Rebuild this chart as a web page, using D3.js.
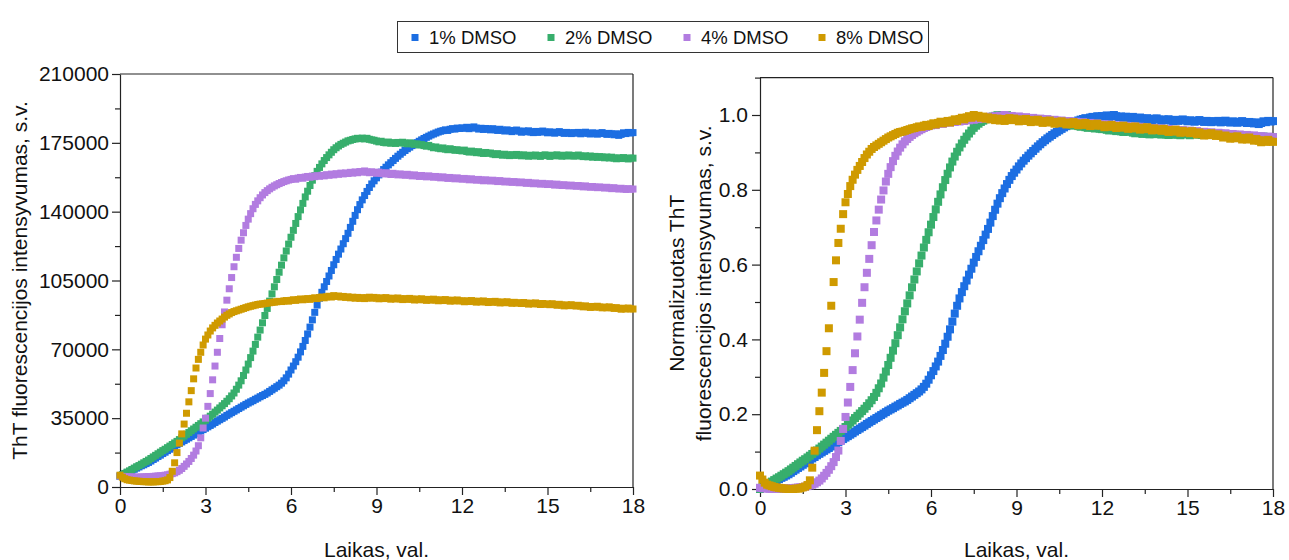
<!DOCTYPE html>
<html><head><meta charset="utf-8">
<script src="https://cdn.jsdelivr.net/npm/d3@7"></script>
<style>
html,body{margin:0;padding:0;background:#fff;}
svg{display:block;font-family:"Liberation Sans",Arial,sans-serif;}
</style></head><body>
<svg id="chart" width="1289" height="560"></svg>
<script>
// ---- data ----
const seriesNames = ["1% DMSO", "2% DMSO", "4% DMSO", "8% DMSO"];
const seriesColors = ["#1c6ee2", "#37ae6c", "#b27ce0", "#cf9a00"];
const intervalMinutes = 5; // measurement every 5 min, 0..18 h

const dmso1 = [
5500,6100,6700,7300,7800,8400,9000,9600,10200,10800,11300,11900,
12500,13200,14000,14700,15500,16200,17000,17700,18500,19200,20000,20700,
21500,22200,22900,23600,24300,25000,25700,26400,27100,27800,28500,29200,
29900,30600,31300,32000,32800,33500,34200,34900,35600,36400,37100,37800,
38500,39200,39900,40600,41300,42000,42700,43300,43900,44600,45200,45900,
46500,47100,47800,48600,49400,50200,51000,51800,52800,54000,55500,57400,
59500,61500,63700,66000,68700,71500,74500,77800,81300,85000,88800,92500,
96000,99000,101800,104500,107300,110100,113000,115700,118400,121000,123700,126300,
129000,132000,135100,138100,141000,143600,146000,148200,150300,152300,154100,155700,
157200,158700,160100,161400,162600,163800,164900,166000,167100,168200,169200,170200,
171100,172000,172800,173600,174400,175100,175800,176500,177200,177800,178400,179000,
179500,180000,180500,180900,181200,181600,181300,181900,182200,182000,182500,182300,
182600,182400,182900,182200,182700,183100,182500,182000,182400,181800,182300,182100,
181600,182200,181700,181300,181900,181400,181000,181600,181200,180700,181300,181500,
180900,180400,181000,180600,181100,180500,180200,180800,180300,180700,181000,180500,
180100,180600,180300,179900,180400,180700,180200,179800,180300,180000,179700,180200,
179900,180300,179600,180000,180400,179800,179500,180100,179800,179400,179900,180200,
179700,179300,179800,179500,179100,179600,178800,179300,180100,179700,180300,180000,
180200];

const dmso2 = [
5500,6200,6900,7600,8200,8900,9600,10300,10900,11600,12300,13000,
13700,14500,15300,16100,16900,17700,18500,19200,20000,20800,21600,22400,
23200,24100,25000,25900,26800,27700,28600,29500,30400,31300,32200,33100,
34000,35000,36000,37000,38100,39100,40200,41300,42400,43600,44900,46300,
47800,49700,51800,54000,56700,59500,62500,65800,69100,72500,76200,79800,
83500,87200,90800,94500,98200,101800,105500,109200,112800,116500,120000,123500,
127000,130500,134000,137500,140900,144200,147500,150400,153300,156000,158300,160500,
162500,164300,166000,167500,168900,170200,171500,172500,173400,174200,174800,175400,
176000,176300,176700,177000,177300,177100,177400,177000,177300,176800,176500,176300,
175900,175500,175800,175200,175000,175400,174800,175100,174700,175200,174900,175300,
174800,174500,175000,174600,174200,174500,173900,174100,173600,173300,173700,173000,
172500,172900,172300,172000,172400,171800,171500,172000,171600,171200,171500,171100,
170900,171300,170600,170300,170800,170400,170000,170500,169900,169600,170100,169700,
169800,169300,169000,169500,169100,168700,169200,168800,168500,169000,168600,169100,
168800,168400,168900,168500,168200,168700,168300,168800,168500,168100,168600,168900,
168500,168100,168700,168400,168900,168500,168200,168700,168300,168800,168600,168200,
168500,168800,168300,168000,168400,167900,168300,167700,168100,167600,168000,167800,
167400,167800,167300,167700,167200,166900,167400,167000,167500,167100,166800,167300,
167200];

const dmso4 = [
5500,5400,5300,5200,5100,5100,5000,5000,5000,5100,5100,5200,
5300,5300,5400,5500,5600,5700,5800,6000,6200,6500,6800,7200,
7800,8500,9400,10500,11700,13000,14500,16200,18300,21000,25000,30000,
35000,41000,47500,54500,61500,68500,75500,82500,89000,95000,100800,106500,
112000,116800,121300,125500,129300,133000,136200,139000,141500,143700,145500,147100,
148500,149700,150700,151600,152400,153100,153700,154300,154800,155300,155700,156100,
156400,156800,156500,157100,157400,157000,157600,157900,157500,158100,157800,158300,
158000,158500,158200,158800,158500,159100,158700,159300,159000,159600,159200,159700,
159400,160000,159600,160200,159800,160400,160100,160700,160200,159800,160300,159900,
159500,160100,159600,159200,159800,159300,158900,159500,159100,158700,159200,158800,
158500,159000,158600,158200,158700,158300,157900,158400,158000,157700,158200,157900,
157500,157900,157600,157200,157700,157300,156900,157400,157000,156700,157200,156800,
156500,156900,156600,156200,156700,156300,156000,156400,156100,155700,156200,155900,
155600,156000,155700,155300,155800,155400,155100,155500,155200,154900,155300,155000,
154700,155100,154800,154400,154900,154500,154200,154600,154300,154000,154400,154100,
153800,154200,153900,153500,154000,153600,153300,153700,153400,153100,153500,153200,
152900,153300,153000,152600,153100,152700,152400,152800,152500,152200,152600,152300,
152000,152400,152100,151700,152200,151800,151500,151900,151600,151300,151700,151400,
151500];

const dmso8 = [
6000,5000,4200,3700,3500,3300,3100,3000,2900,2800,2700,2700,
2600,2600,2600,2700,2700,2800,3000,3200,3600,4800,8000,12300,
17500,22300,27000,32000,37500,43300,49000,55000,60500,64900,68500,72200,
75200,77300,79300,80900,82200,83400,84400,85400,86400,87300,88000,88700,
89200,89600,90000,90400,90800,91200,91600,91900,92200,92500,92800,93000,
93100,93300,93500,93700,93900,94000,94200,94400,94300,94600,94800,94500,
94900,95200,94900,95300,95600,95200,95500,95800,95400,95900,96200,95800,
96300,96600,96200,96700,97000,96600,97300,96900,97100,96600,96900,96400,
96700,96200,96500,96000,96400,95900,96300,95800,96200,96500,96000,96400,
96100,95700,96200,95800,96300,95900,95500,96000,95600,96100,95700,95300,
95800,95400,95900,95500,95100,95600,95200,95700,95300,94900,95400,95000,
95500,95100,94700,95200,94800,95300,94900,94500,95000,94600,95100,94700,
94600,94200,94700,94300,94800,94400,94000,94500,94100,94600,94200,93800,
94300,93900,94400,94000,93600,94100,93700,94200,93800,93400,93900,93500,
93700,93300,93800,93400,93000,93500,93100,93600,93200,92800,93300,92900,
93100,92700,93200,92800,92400,92900,92500,92100,92600,92200,92700,92300,
92000,92400,92000,91600,92100,91700,91300,91800,91400,91900,91500,91100,
91500,91100,91600,91200,90800,91200,90800,90400,90900,90500,91000,90600,
90500];

const rawTicks = [0, 35000, 70000, 105000, 140000, 175000, 210000];
const rawMinorTicks = [17500, 52500, 87500, 122500, 157500, 192500];
const normTicks = [0, 0.2, 0.4, 0.6, 0.8, 1.0];
const normMinorTicks = [0.1, 0.3, 0.5, 0.7, 0.9, 1.1];
const timeTicks = [0, 3, 6, 9, 12, 15, 18];
const timeMinorTicks = [1.5, 4.5, 7.5, 10.5, 13.5, 16.5];

const xTitle = "Laikas, val.";
const yTitleLeft = "ThT fluorescencijos intensyvumas, s.v.";
const yTitleRight = ["Normalizuotas ThT", "fluorescencijos intensyvumas, s.v."];

// ---- build ----
const rawSeries = [dmso1, dmso2, dmso4, dmso8];
const tables = rawSeries.map((arr, si) => {
  const mn = d3.min(arr), mx = d3.max(arr);
  return arr.map((v, i) => ({t: i * intervalMinutes / 60, v, n: (v - mn) / (mx - mn), s: si}));
});

const svg = d3.select("#chart");
const FS = 21;

function panel(cfg) {
  const x = d3.scaleLinear().domain([0, 18]).range([cfg.x0, cfg.x1]);
  const y = d3.scaleLinear().domain(cfg.yDomain).range([cfg.yb, cfg.yt]);
  const g = svg.append("g");

  // y axis
  const ya = g.append("g").attr("transform", `translate(${cfg.x0},0)`)
    .call(d3.axisLeft(y).tickValues(cfg.yTicks).tickSize(8).tickSizeOuter(0).tickPadding(cfg.yPad).tickFormat(cfg.yFmt));
  g.append("g").attr("transform", `translate(${cfg.x0},0)`)
    .call(d3.axisLeft(y).tickValues(cfg.yMinor).tickSize(5).tickSizeOuter(0).tickFormat(""))
    .select(".domain").remove();
  // x axis
  const xa = g.append("g").attr("transform", `translate(0,${cfg.yb})`)
    .call(d3.axisBottom(x).tickValues(timeTicks).tickSize(8).tickSizeOuter(0).tickPadding(3).tickFormat(d3.format("d")));
  g.append("g").attr("transform", `translate(0,${cfg.yb})`)
    .call(d3.axisBottom(x).tickValues(timeMinorTicks).tickSize(5).tickSizeOuter(0).tickFormat(""))
    .select(".domain").remove();
  g.selectAll(".tick text").attr("font-size", FS).attr("font-family", '"Liberation Sans", Arial, sans-serif').attr("fill", "#111");
  g.selectAll("line, path").attr("stroke", "#222").attr("stroke-width", 1.2);

  // frame top/right
  g.append("line").attr("x1", cfg.x0).attr("x2", cfg.x1).attr("y1", cfg.yt).attr("y2", cfg.yt).attr("stroke", "#222").attr("stroke-width", 1.2);
  g.append("line").attr("x1", cfg.x1).attr("x2", cfg.x1).attr("y1", cfg.yt).attr("y2", cfg.yb).attr("stroke", "#222").attr("stroke-width", 1.2);

  // markers
  const s = cfg.ms;
  tables.forEach((tab, si) => {
    g.append("g").selectAll("rect").data(tab).join("rect")
      .attr("x", d => x(d.t) - s / 2)
      .attr("y", d => y(d[cfg.key]) - s / 2)
      .attr("width", s).attr("height", s)
      .attr("fill", seriesColors[si]);
  });

  // titles
  g.append("text").attr("x", (cfg.x0 + cfg.x1) / 2).attr("y", 557)
    .attr("text-anchor", "middle").attr("font-size", FS).attr("fill", "#111").text(xTitle);
  cfg.yTitle.forEach((tt, i) => {
    g.append("text")
      .attr("transform", `translate(${cfg.titleX[i]},${(cfg.yt + cfg.yb) / 2}) rotate(-90)`)
      .attr("text-anchor", "middle").attr("font-size", FS).attr("fill", "#111").text(tt);
  });
  return {x, y};
}

panel({x0: 120, x1: 633, yb: 487, yt: 74, yDomain: [0, 210000], yTicks: rawTicks, yMinor: rawMinorTicks,
  yFmt: d3.format("d"), yPad: 3, key: "v", ms: 7, yTitle: [yTitleLeft], titleX: [27]});
panel({x0: 760, x1: 1273, yb: 489, yt: 77.6, yDomain: [0, 1.1], yTicks: normTicks, yMinor: normMinorTicks,
  yFmt: d3.format(".1f"), yPad: 4, key: "n", ms: 8, yTitle: yTitleRight, titleX: [684, 711]});

// legend
const lg = svg.append("g");
lg.append("rect").attr("x", 397.5).attr("y", 21.5).attr("width", 531).attr("height", 31)
  .attr("fill", "#fff").attr("stroke", "#333").attr("stroke-width", 1);
const legX = [415, 551, 687, 822];
seriesNames.forEach((nm, i) => {
  lg.append("rect").attr("x", legX[i] - 3.5).attr("y", 34).attr("width", 7).attr("height", 7).attr("fill", seriesColors[i]);
  lg.append("text").attr("x", legX[i] + 14).attr("y", 44).attr("font-size", 18.5).attr("fill", "#111").text(nm);
});
</script>
</body></html>
